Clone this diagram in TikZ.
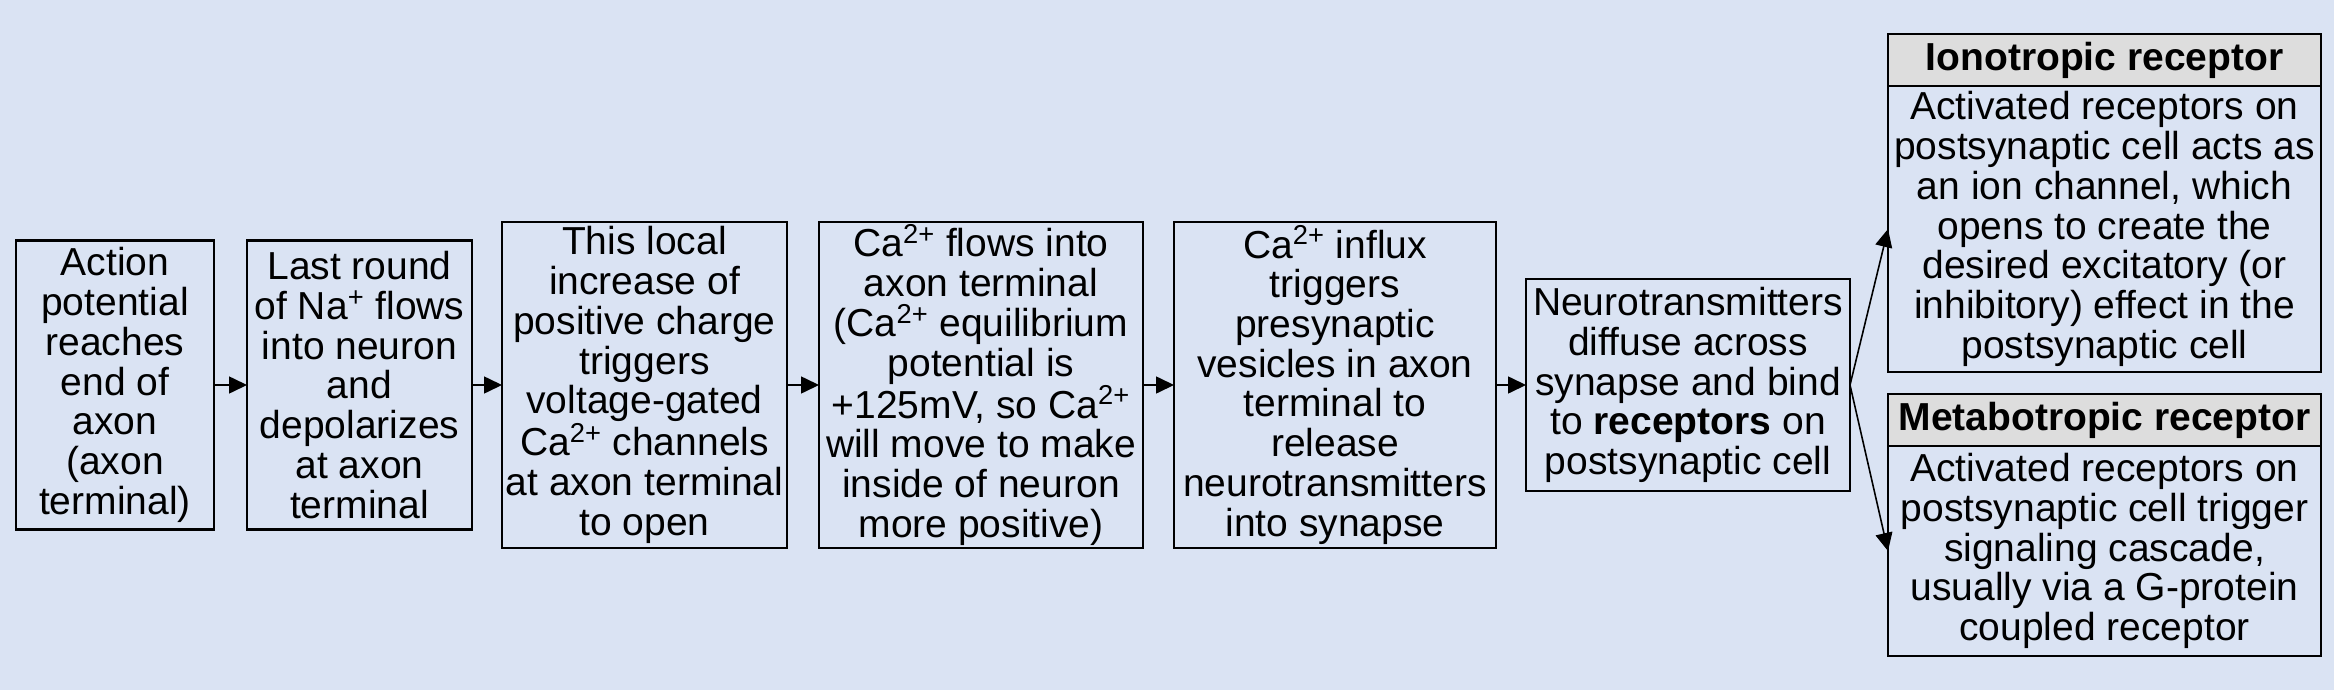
\documentclass[tikz,border=0pt]{standalone}
\usepackage{fontspec}
\setmainfont{Liberation Sans}
\usepackage{xcolor}
\usetikzlibrary{positioning,arrows.meta}
\definecolor{paper}{HTML}{DAE3F3}
\definecolor{ink}{HTML}{000000}
\definecolor{headbg}{HTML}{DDDDDD}
\newcommand{\caion}{Ca\textsuperscript{2+}}

\begin{document}
\begin{tikzpicture}[font=\fontsize{22.2}{22.6}\selectfont,
  stage/.style={draw=ink,line width=1.3pt,fill=paper,align=center,inner sep=0pt,outer sep=0pt},
  head/.style={stage,fill=headbg,font=\fontsize{22.2}{22.6}\selectfont\bfseries,minimum width=8.66cm,minimum height=1.04cm},
  body/.style={stage,minimum width=8.66cm},
  arr/.style={-{Triangle[length=0.36cm,width=0.34cm]},line width=0.9pt,draw=ink}]
  \fill[paper] (0,0) rectangle (46.68,-13.8);
  \useasboundingbox (0,0) rectangle (46.68,-13.8);
  \node[stage,minimum width=3.96cm,minimum height=5.78cm] (ap) at (2.30,-7.70)
    {Action\\potential\\reaches\\end of\\axon\\(axon\\terminal)};
  \node[stage,minimum width=4.50cm,minimum height=5.78cm,right=0.66cm of ap] (na)
    {Last round\\of Na\textsuperscript{+} flows\\into neuron\\and\\depolarizes\\at axon\\terminal};
  \node[stage,minimum width=5.70cm,minimum height=6.52cm,right=0.60cm of na] (vg)
    {This local\\increase of\\positive charge\\triggers\\voltage-gated\\\caion{} channels\\at axon terminal\\to open};
  \node[stage,minimum width=6.48cm,minimum height=6.52cm,right=0.64cm of vg] (ca)
    {\caion{} flows into\\axon terminal\\(\caion{} equilibrium\\potential is\\+125mV, so \caion\\will move to make\\inside of neuron\\more positive)};
  \node[stage,minimum width=6.44cm,minimum height=6.52cm,right=0.62cm of ca] (ves)
    {\caion{} influx\\triggers\\presynaptic\\vesicles in axon\\terminal to\\release\\neurotransmitters\\into synapse};
  \node[stage,minimum width=6.48cm,minimum height=4.24cm,right=0.60cm of ves] (bind)
    {Neurotransmitters\\diffuse across\\synapse and bind\\to \textbf{receptors} on\\postsynaptic cell};
  \foreach \x/\y in {ap/na,na/vg,vg/ca,ca/ves,ves/bind} \draw[arr] (\x) -- (\y);
  % receptor types
  \node[head,anchor=north west] (ionoh) at (37.76,-0.68) {Ionotropic receptor};
  \node[body,minimum height=5.72cm,below=0pt of ionoh] (iono)
    {Activated receptors on\\postsynaptic cell acts as\\an ion channel, which\\opens to create the\\desired excitatory (or\\inhibitory) effect in the\\postsynaptic cell};
  \node[head,below=0.44cm of iono] (metah) {Metabotropic receptor};
  \node[body,minimum height=4.20cm,below=0pt of metah] (meta)
    {Activated receptors on\\postsynaptic cell trigger\\signaling cascade,\\usually via a G-protein\\coupled receptor};
  \draw[arr] (bind.east) -- (iono.west);
  \draw[arr] (bind.east) -- (meta.west);
\end{tikzpicture}
\end{document}
